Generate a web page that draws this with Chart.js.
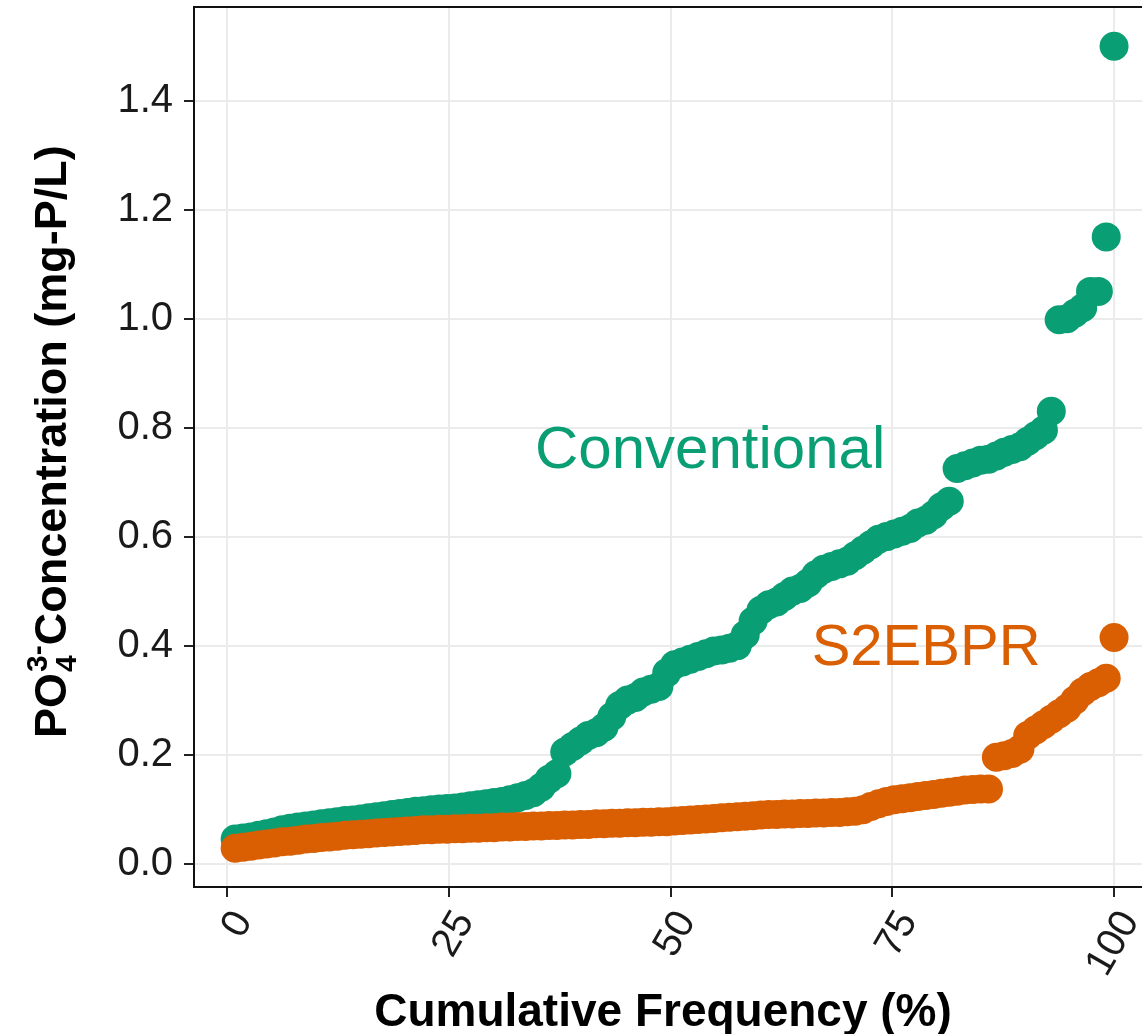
<!DOCTYPE html>
<html><head><meta charset="utf-8">
<script src="https://cdn.jsdelivr.net/npm/chart.js@4"></script>
<style>html,body{margin:0;padding:0;background:#fff;overflow:hidden}#wrap{width:1142px;height:1034px;position:relative}</style>
</head><body><div id="wrap"><canvas id="c" width="1142" height="1034"></canvas></div>
<script>
const seriesNames = ['Conventional', 'S2EBPR'];
const conventional = [
 0.045,0.047,0.049,0.052,0.055,0.058,0.062,0.065,0.067,0.069,
 0.071,0.073,0.075,0.077,0.079,0.080,0.082,0.084,0.086,0.088,
 0.090,0.092,0.094,0.096,0.097,0.099,0.100,0.101,0.102,0.104,
 0.106,0.108,0.110,0.112,0.114,0.117,0.121,0.125,0.130,0.140,
 0.155,0.165,0.205,0.215,0.225,0.235,0.240,0.250,0.270,0.290,
 0.300,0.305,0.315,0.320,0.325,0.350,0.365,0.370,0.375,0.380,
 0.385,0.390,0.392,0.395,0.400,0.420,0.445,0.465,0.475,0.480,
 0.490,0.500,0.505,0.515,0.530,0.540,0.545,0.550,0.555,0.565,
 0.575,0.585,0.595,0.600,0.605,0.610,0.615,0.625,0.630,0.640,
 0.655,0.665,0.725,0.730,0.735,0.740,0.742,0.748,0.755,0.760,
 0.765,0.775,0.785,0.795,0.830,0.998,1.000,1.010,1.020,1.050,
 1.050,1.150,1.500];
const s2ebpr = [
 0.028,0.030,0.032,0.034,0.036,0.038,0.040,0.041,0.043,0.045,
 0.046,0.048,0.049,0.050,0.052,0.053,0.054,0.055,0.056,0.057,
 0.058,0.059,0.060,0.061,0.062,0.062,0.063,0.063,0.064,0.064,
 0.065,0.065,0.066,0.066,0.067,0.067,0.068,0.068,0.069,0.069,
 0.070,0.070,0.071,0.071,0.072,0.072,0.073,0.073,0.074,0.074,
 0.075,0.075,0.076,0.076,0.077,0.077,0.078,0.079,0.080,0.081,
 0.082,0.083,0.084,0.085,0.086,0.087,0.088,0.089,0.090,0.090,
 0.091,0.091,0.092,0.092,0.093,0.093,0.094,0.094,0.095,0.096,
 0.099,0.105,0.110,0.114,0.117,0.119,0.121,0.123,0.125,0.127,
 0.129,0.131,0.133,0.135,0.136,0.137,0.137,0.195,0.198,0.202,
 0.210,0.235,0.245,0.255,0.265,0.275,0.285,0.300,0.315,0.325,
 0.332,0.340,0.415];
const xTickValues = [0, 25, 50, 75, 100];
const yTickValues = [0, 0.2, 0.4, 0.6, 0.8, 1.0, 1.2, 1.4];
const xTitle = 'Cumulative Frequency (%)';
const yTitleParts = { main: 'PO', sup: '3-', sub: '4', rest: 'Concentration (mg-P/L)' };

const colors = { Conventional: '#0A9E74', S2EBPR: '#D95F02' };
const FONT = '"Liberation Sans", Arial, Helvetica, sans-serif';

// empirical cumulative frequency (%) of the sorted values
function ecdf(values) {
  const sorted = values.slice().sort((a, b) => a - b);
  return sorted.map((v, i) => ({ x: (i + 1) / sorted.length * 100, y: v }));
}

const textLabels = [
  { text: 'Conventional', x: 34.7, y: 0.726, color: colors.Conventional, size: 60 },
  { text: 'S2EBPR', x: 65.9, y: 0.364, color: colors.S2EBPR, size: 58 }
];

const decorPlugin = {
  id: 'decor',
  afterDraw(chart) {
    const { ctx, chartArea: a, scales } = chart;
    ctx.save();
    // top panel border
    ctx.strokeStyle = '#111';
    ctx.lineWidth = 2;
    ctx.beginPath();
    ctx.moveTo(a.left - 1, a.top);
    ctx.lineTo(a.right + 2, a.top);
    ctx.stroke();
    // in-plot labels
    ctx.textAlign = 'left';
    ctx.textBaseline = 'alphabetic';
    textLabels.forEach(l => {
      ctx.font = l.size + 'px ' + FONT;
      ctx.fillStyle = l.color;
      ctx.fillText(l.text, scales.x.getPixelForValue(l.x), scales.y.getPixelForValue(l.y));
    });
    // x title
    ctx.fillStyle = '#000';
    ctx.font = 'bold 46px ' + FONT;
    ctx.textAlign = 'center';
    ctx.fillText(xTitle, 663, 1026);
    // y title with stacked sub/superscript
    ctx.translate(66, 738);
    ctx.rotate(-Math.PI / 2);
    ctx.textAlign = 'left';
    ctx.font = 'bold 45px ' + FONT;
    ctx.fillText(yTitleParts.main, 0, 0);
    const w1 = ctx.measureText(yTitleParts.main).width;
    ctx.font = 'bold 30px ' + FONT;
    ctx.fillText(yTitleParts.sup, w1 + 1, -19);
    ctx.fillText(yTitleParts.sub, w1 + 1, 10);
    const w2 = Math.max(ctx.measureText(yTitleParts.sup).width, ctx.measureText(yTitleParts.sub).width);
    ctx.font = 'bold 45px ' + FONT;
    ctx.fillText(yTitleParts.rest, w1 + w2 + 1, 0);
    ctx.restore();
  }
};

const gridOpts = { color: '#EBEBEB', lineWidth: 2, tickColor: '#222', tickLength: 10, tickWidth: 2 };

new Chart(document.getElementById('c'), {
  type: 'scatter',
  data: {
    datasets: [
      { label: seriesNames[1], data: ecdf(s2ebpr), backgroundColor: colors.S2EBPR, borderWidth: 0, pointRadius: 14.5, pointHoverRadius: 14.5 },
      { label: seriesNames[0], data: ecdf(conventional), backgroundColor: colors.Conventional, borderWidth: 0, pointRadius: 14.5, pointHoverRadius: 14.5 }
    ]
  },
  options: {
    responsive: false,
    devicePixelRatio: 1,
    animation: false,
    events: [],
    layout: { autoPadding: false, padding: { top: 7, right: 0, left: 0, bottom: 0 } },
    plugins: { legend: { display: false }, tooltip: { enabled: false } },
    scales: {
      x: {
        type: 'linear', min: -3.755, max: 103.15,
        afterBuildTicks: s => { s.ticks = xTickValues.map(v => ({ value: v })); },
        afterFit: s => { s.height = 147; s.paddingLeft = 0; s.paddingRight = 0; },
        grid: gridOpts,
        border: { display: true, color: '#111', width: 2 },
        ticks: {
          autoSkip: false, minRotation: 60, maxRotation: 60, padding: 6, labelOffset: 16,
          color: '#1a1a1a', font: { family: FONT, size: 40 },
          callback: v => String(v)
        }
      },
      y: {
        type: 'linear', min: -0.0429, max: 1.5718,
        afterBuildTicks: s => { s.ticks = yTickValues.map(v => ({ value: v })); },
        afterFit: s => { s.width = 194; s.paddingTop = 0; s.paddingBottom = 0; },
        grid: gridOpts,
        border: { display: true, color: '#111', width: 2 },
        ticks: {
          padding: 11, color: '#1a1a1a', font: { family: FONT, size: 40 },
          callback: v => v.toFixed(1)
        }
      }
    }
  },
  plugins: [decorPlugin]
});
</script></body></html>
